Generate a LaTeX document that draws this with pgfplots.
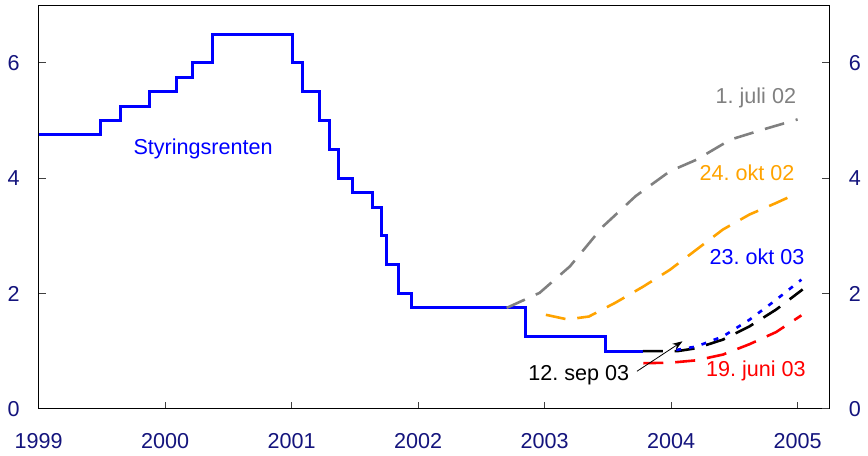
\documentclass[border=0pt]{standalone}
\usepackage{fontspec}
\setmainfont{Liberation Sans}
\usepackage{pgfplots}
\pgfplotsset{compat=1.18}
\usetikzlibrary{arrows.meta}

\definecolor{navy}{RGB}{20,20,125}
\definecolor{fcgray}{RGB}{128,128,128}
\definecolor{fcorange}{RGB}{255,163,0}

\pgfplotsset{
  base/.style={
    scale only axis,
    width=395.6pt, height=201.9pt,
    xmin=1999, xmax=2005.25,
    ymin=0, ymax=7,
    ytick={0,2,4,6},
    tick align=inside,
    major tick length=3.5pt,
    tick style={black!75, line width=0.5pt},
    axis line style={line width=0.7pt},
    ticklabel style={text=navy},
    /pgf/number format/assume math mode=true,
    clip=false,
  },
  longdash/.style={line width=1.3pt, dash pattern=on 10pt off 6pt},
}

\begin{document}
\frenchspacing
\fontsize{10.8}{13}\selectfont
\begin{tikzpicture}
\begin{axis}[base,
  xtick={1999,2000,2001,2002,2003,2004,2005},
  xticklabels={1999,2000,2001,2002,2003,2004,2005},
  xtick pos=bottom, ytick pos=left,
  xticklabel style={yshift=-8.4pt},
  yticklabel style={xshift=-5.7pt},
]
% invisible frame for the page size
\path (rel axis cs:-0.0489,-0.1164) rectangle (rel axis cs:1.048,1.0131);

% Styringsrenten
\addplot[const plot, blue, line width=1.5pt] coordinates {
 (1999,4.75) (1999.49,5.0) (1999.645,5.25) (1999.874,5.5) (2000.087,5.75)
 (2000.216,6.0) (2000.371,6.5) (2001.009,6.0) (2001.085,5.5) (2001.217,5.0)
 (2001.296,4.5) (2001.370,4.0) (2001.485,3.75) (2001.643,3.5) (2001.709,3.0)
 (2001.749,2.5) (2001.846,2.0) (2001.949,1.75) (2002.85,1.25) (2003.48,1.0)
 (2003.776,1.0)};

% 1. juli 02
\addplot[fcgray, longdash] coordinates {
 (2002.70,1.75) (2002.96,2.01) (2003.20,2.47) (2003.46,3.16) (2003.72,3.69)
 (2003.99,4.12) (2004.20,4.32) (2004.47,4.67) (2004.72,4.84) (2005.0,5.02)};

% 24. okt 02
\addplot[fcorange, longdash] coordinates {
 (2003.01,1.63) (2003.18,1.55) (2003.35,1.60) (2003.56,1.84) (2003.78,2.12)
 (2003.99,2.41) (2004.20,2.76) (2004.41,3.11) (2004.62,3.37) (2004.83,3.57)
 (2005.0,3.74)};

% 19. juni 03
\addplot[red, longdash] coordinates {
 (2003.78,0.79) (2004.0,0.80) (2004.20,0.84) (2004.41,0.94) (2004.62,1.12)
 (2004.83,1.33) (2005.03,1.62)};

% 12. sep 03
\addplot[black, longdash] coordinates {
 (2003.776,1.0) (2004.05,1.0) (2004.20,1.05) (2004.41,1.20) (2004.62,1.43)
 (2004.83,1.72) (2005.04,2.07)};

% 23. okt 03
\addplot[blue, line width=1.3pt, dash pattern=on 2.5pt off 4pt] coordinates {
 (2004.04,1.02) (2004.20,1.08) (2004.41,1.255) (2004.62,1.545) (2004.83,1.89)
 (2005.03,2.24)};

\draw[-{Stealth[length=5pt,width=3.5pt]}, line width=0.4pt]
  (axis cs:2003.73,0.65) -- (axis cs:2004.09,1.17);

\node[text=blue] at (axis cs:2000.30,4.51) {Styringsrenten};
\node[text=fcgray] at (axis cs:2004.67,5.39) {1. juli 02};
\node[text=fcorange] at (axis cs:2004.60,4.09) {24. okt 02};
\node[text=blue] at (axis cs:2004.68,2.63) {23. okt 03};
\node[text=red] at (axis cs:2004.67,0.65) {19. juni 03};
\node[text=black] at (axis cs:2003.27,0.59) {12. sep 03};
\end{axis}

\begin{axis}[base,
  axis x line=none,
  axis y line*=right,
  ytick pos=right,
  yticklabel pos=right,
  yticklabel style={xshift=6pt},
]
\end{axis}
\end{tikzpicture}
\end{document}
